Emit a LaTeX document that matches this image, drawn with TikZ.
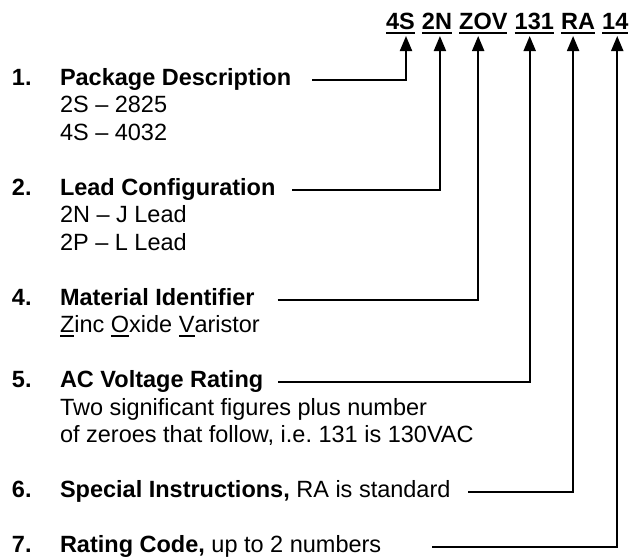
\documentclass[tikz,border=0pt]{standalone}
\usepackage{fontspec}
\setmainfont{Liberation Sans}
\usetikzlibrary{arrows.meta, positioning}
\newsavebox{\ucbox}
\newcommand{\uchar}[1]{\sbox\ucbox{#1}\rlap{\rule[-4.5pt]{\wd\ucbox}{2pt}}\usebox\ucbox}
\tikzset{
  every picture/.style={line width=2pt},
  txt/.style={font=\fontsize{23.5}{27.5}\selectfont, anchor=base west, inner sep=0pt, outer sep=0pt},
  head/.style={txt, font=\fontsize{23.5}{27.5}\selectfont\bfseries, text height=11pt, text depth=0pt},
  num/.style={txt, font=\fontsize{23.5}{27.5}\selectfont\bfseries},
  code/.style={txt, font=\fontsize{23.5}{27.5}\selectfont\bfseries, text depth=0pt},
  uline/.style={line width=2pt, line cap=butt},
  conn/.style={-{Triangle[length=15pt, width=12pt]}, line width=2pt},
}
\frenchspacing
\begin{document}
\begin{tikzpicture}[x=1pt, y=-1pt]
  \useasboundingbox (0,0) rectangle (630,560);
  % part number
  \node[code] (c4S) at (386,29) {4S};
  \node[code, base right=7.2pt of c4S] (c2N) {2N};
  \node[code, base right=7.2pt of c2N] (cZOV) {ZOV};
  \node[code, base right=7.2pt of cZOV] (c131) {131};
  \node[code, base right=7.2pt of c131] (cRA) {RA};
  \node[code, base right=7.2pt of cRA] (c14) {14};
  \foreach \c in {c4S, c2N, cZOV, c131, cRA, c14}
    \draw[uline] ([yshift=-4pt]\c.base west) -- ([yshift=-4pt]\c.base east);
  % legend
  \node[num] (n1) at (12,85) {1.};
  \node[head] (h1) at (60,85) {Package Description};
  \node[txt] (s1a) at (60,112.5) {2S -- 2825};
  \node[txt] (s1b) at (60,140) {4S -- 4032};
  \node[num] (n2) at (12,195) {2.};
  \node[head] (h2) at (60,195) {Lead Configuration};
  \node[txt] (s2a) at (60,222.5) {2N -- J Lead};
  \node[txt] (s2b) at (60,250) {2P -- L Lead};
  \node[num] (n4) at (12,305) {4.};
  \node[head] (h4) at (60,305) {Material Identifier};
  \node[txt] (s4a) at (60,332.5) {\uchar{Z}inc \uchar{O}xide \uchar{V}aristor};
  \node[num] (n5) at (12,387.5) {5.};
  \node[head] (h5) at (60,387.5) {AC Voltage Rating};
  \node[txt] (s5a) at (60,415) {Two significant figures plus number};
  \node[txt] (s5b) at (60,442.5) {of zeroes that follow, i.e. 131 is 130VAC};
  \node[num] (n6) at (12,497.5) {6.};
  \node[head] (h6) at (60,497.5) {Special Instructions, \mdseries RA is standard};
  \node[num] (n7) at (12,552.5) {7.};
  \node[head] (h7) at (60,552.5) {Rating Code, \mdseries up to 2 numbers};
  % connectors
  \foreach \h/\g/\c/\dx in {h1/21/c4S/20, h2/17/c2N/18, h4/23/cZOV/19, h5/15/c131/15, h6/18/cRA/12, h7/51/c14/15}
    \draw[conn] ([xshift=\g pt]\h.east) -| ([xshift=\dx pt, yshift=-7pt]\c.base west);
\end{tikzpicture}
\end{document}
